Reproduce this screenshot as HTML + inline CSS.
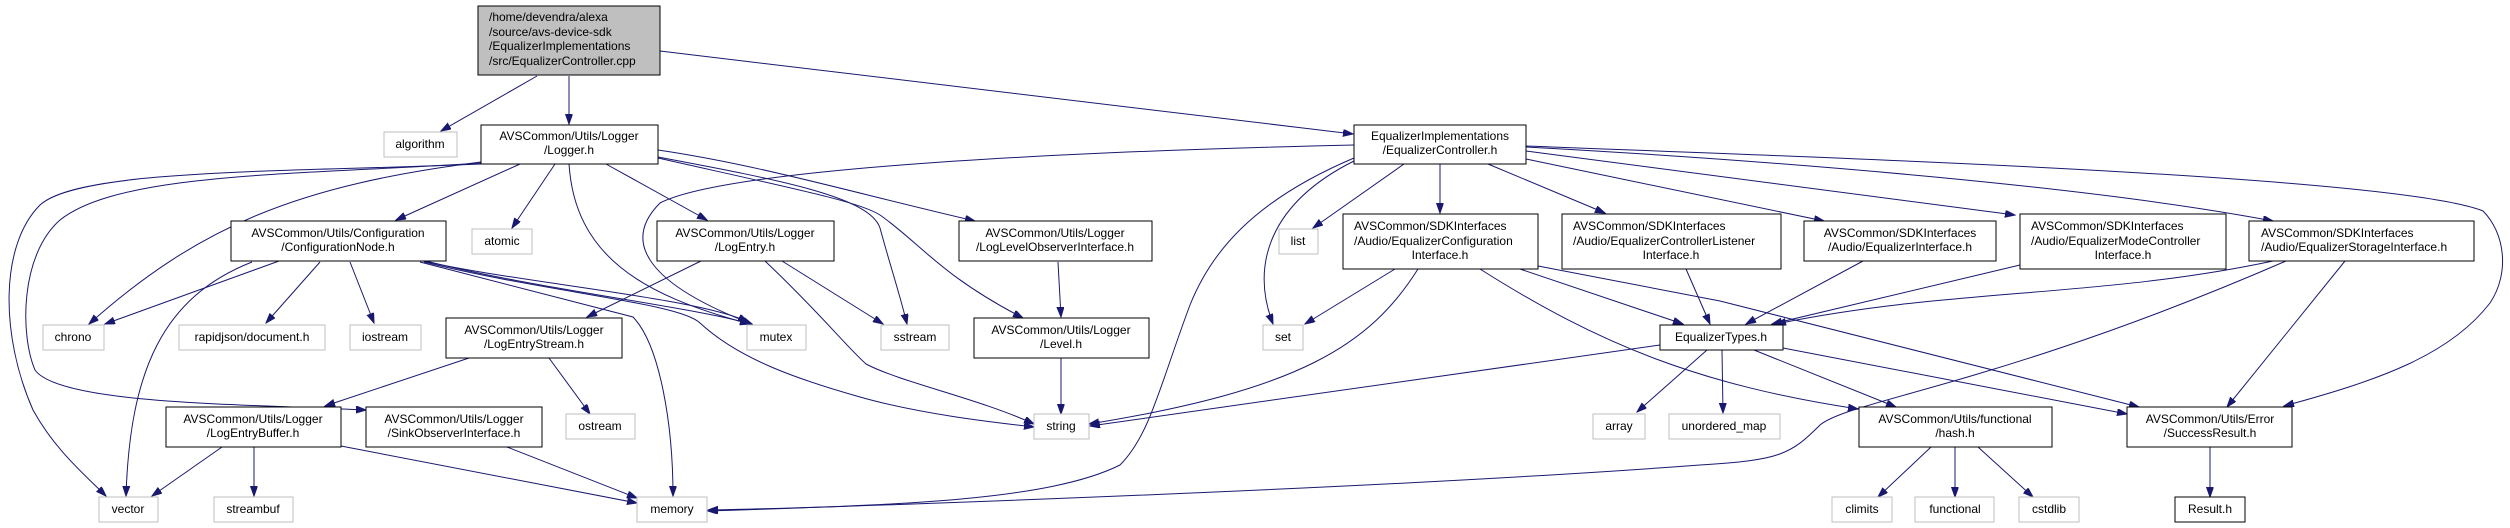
<!DOCTYPE html>
<html><head><meta charset="utf-8"><style>
html,body{margin:0;padding:0;background:#fff;}
svg{display:block;}
text{font-family:"Liberation Sans",Arial,sans-serif;font-size:12px;fill:#000;}
.b{fill:#fff;stroke:#000;stroke-width:1;}
.g{fill:#fff;stroke:#bfbfbf;stroke-width:1;}
.e{fill:none;stroke:#191970;stroke-width:1;marker-end:url(#a);}
</style></head><body>
<svg width="2510" height="528" viewBox="0 0 2510 528" xmlns="http://www.w3.org/2000/svg">
<defs><marker id="a" markerUnits="userSpaceOnUse" markerWidth="11" markerHeight="8" refX="10" refY="3.5" orient="auto"><path d="M0,0 L10,3.5 L0,7 z" fill="#191970" stroke="#191970"/></marker></defs>

<!-- edges -->
<path class="e" d="M537,76 L441,131"/>
<path class="e" d="M569,76 L569,124"/>
<path class="e" d="M660,51 L1353,134"/>
<path class="e" d="M520,164 L396,220"/>
<path class="e" d="M555,164 L512,228"/>
<path class="e" d="M606,164 L707,220"/>
<path class="e" d="M569,164 C575,255 640,295 750,324"/>
<path class="e" d="M481,162 C300,185 200,225 89,324"/>
<path class="e" d="M481,164 C300,172 80,168 40,205 C0,245 0,335 33,410 C55,450 85,475 106,496"/>
<path class="e" d="M481,163 C300,175 120,172 60,220 C20,255 20,335 35,370 C60,405 250,404 366,410"/>
<path class="e" d="M658,150 C760,165 850,192 975,221"/>
<path class="e" d="M658,157 C780,180 870,197 880,228 C890,265 900,295 907,324"/>
<path class="e" d="M658,158 C800,190 860,202 880,215 C920,243 940,275 1023,318"/>
<path class="e" d="M279,261 L105,324"/>
<path class="e" d="M252,262 C163,297 130,370 126,496"/>
<path class="e" d="M320,262 L266,323"/>
<path class="e" d="M350,262 L374,323"/>
<path class="e" d="M423,261 C520,283 700,298 748,322"/>
<path class="e" d="M426,261 C530,288 700,308 750,324"/>
<path class="e" d="M420,262 L633,317 C660,345 673,425 673,496"/>
<path class="e" d="M424,262 C550,293 680,303 700,323 C740,360 800,380 860,397 C920,414 990,422 1034,427"/>
<path class="e" d="M701,261 L587,317"/>
<path class="e" d="M765,261 C820,313 845,345 866,364 C900,382 980,399 1034,424"/>
<path class="e" d="M782,261 L883,324"/>
<path class="e" d="M469,358 L325,406"/>
<path class="e" d="M549,358 L590,414"/>
<path class="e" d="M222,447 L152,496"/>
<path class="e" d="M254,447 L254,496"/>
<path class="e" d="M341,446 L637,503"/>
<path class="e" d="M507,447 L637,498"/>
<path class="e" d="M1058,262 L1061,317"/>
<path class="e" d="M1061,358 L1061,414"/>
<path class="e" d="M1354,145 C1000,153 720,172 660,203 C620,243 650,285 752,324"/>
<path class="e" d="M1354,158 C1250,202 1210,255 1190,305 C1160,385 1150,435 1120,465 C1050,500 900,506 708,510"/>
<path class="e" d="M2286,261 C2000,385 1850,400 1820,425 C1790,455 1780,460 1700,465 C1500,480 1200,495 708,511"/>
<path class="e" d="M1404,164 L1313,228"/>
<path class="e" d="M1354,161 C1270,203 1250,265 1273,324"/>
<path class="e" d="M1440,164 L1440,213"/>
<path class="e" d="M1488,164 L1605,213"/>
<path class="e" d="M1526,159 L1824,221"/>
<path class="e" d="M1526,151 L2015,215"/>
<path class="e" d="M1526,147 C1800,162 2100,188 2273,221"/>
<path class="e" d="M1526,146 C1900,160 2400,178 2483,211 C2505,233 2510,273 2490,303 C2450,355 2380,380 2284,406"/>
<path class="e" d="M1395,269 L1305,324"/>
<path class="e" d="M1418,269 C1370,345 1300,390 1089,424"/>
<path class="e" d="M1520,269 L1683,324"/>
<path class="e" d="M1480,269 C1600,345 1700,385 1858,409"/>
<path class="e" d="M1538,266 L1720,301 L2139,407"/>
<path class="e" d="M1686,269 L1710,324"/>
<path class="e" d="M1863,261 L1746,324"/>
<path class="e" d="M2020,265 L1772,324"/>
<path class="e" d="M2273,261 C2100,298 1950,288 1776,324"/>
<path class="e" d="M2345,261 L2227,407"/>
<path class="e" d="M1660,345 L1090,426"/>
<path class="e" d="M1707,350 L1637,412"/>
<path class="e" d="M1722,350 L1723,413"/>
<path class="e" d="M1754,350 L1896,407"/>
<path class="e" d="M1783,348 L2127,414"/>
<path class="e" d="M1931,447 L1878,497"/>
<path class="e" d="M1955,447 L1955,497"/>
<path class="e" d="M1978,447 L2033,497"/>
<path class="e" d="M2210,447 L2210,497"/>

<!-- nodes -->
<rect x="478" y="6" width="182" height="69" fill="#bfbfbf" stroke="#000"/>
<text x="489" y="21">/home/devendra/alexa</text>
<text x="489" y="36">/source/avs-device-sdk</text>
<text x="489" y="50">/EqualizerImplementations</text>
<text x="489" y="65">/src/EqualizerController.cpp</text>

<rect class="b" x="1343" y="214" width="195" height="55"/><text x="1354" y="230">AVSCommon/SDKInterfaces</text><text x="1354" y="245">/Audio/EqualizerConfiguration</text><text x="1440" y="259" text-anchor="middle">Interface.h</text>
<rect class="b" x="1562" y="214" width="219" height="55"/><text x="1573" y="230">AVSCommon/SDKInterfaces</text><text x="1573" y="245">/Audio/EqualizerControllerListener</text><text x="1671" y="259" text-anchor="middle">Interface.h</text>
<rect class="b" x="2020" y="214" width="206" height="55"/><text x="2031" y="230">AVSCommon/SDKInterfaces</text><text x="2031" y="245">/Audio/EqualizerModeController</text><text x="2123" y="259" text-anchor="middle">Interface.h</text>
<rect class="b" x="2249" y="221" width="225" height="40"/><text x="2261" y="237">AVSCommon/SDKInterfaces</text><text x="2261" y="251">/Audio/EqualizerStorageInterface.h</text>

<g text-anchor="middle">
<rect class="g" x="384" y="132" width="73" height="25"/><text x="420" y="148">algorithm</text>
<rect class="b" x="481" y="125" width="177" height="39"/><text x="569" y="140">AVSCommon/Utils/Logger</text><text x="569" y="154">/Logger.h</text>
<rect class="b" x="231" y="221" width="215" height="40"/><text x="338" y="237">AVSCommon/Utils/Configuration</text><text x="338" y="251">/ConfigurationNode.h</text>
<rect class="g" x="472" y="229" width="60" height="25"/><text x="502" y="245">atomic</text>
<rect class="b" x="657" y="221" width="177" height="40"/><text x="745" y="237">AVSCommon/Utils/Logger</text><text x="745" y="251">/LogEntry.h</text>
<rect class="g" x="43" y="325" width="61" height="25"/><text x="73" y="341">chrono</text>
<rect class="g" x="179" y="325" width="146" height="25"/><text x="252" y="341">rapidjson/document.h</text>
<rect class="g" x="350" y="325" width="71" height="25"/><text x="385" y="341">iostream</text>
<rect class="b" x="446" y="318" width="176" height="40"/><text x="534" y="334">AVSCommon/Utils/Logger</text><text x="534" y="348">/LogEntryStream.h</text>
<rect class="g" x="747" y="325" width="59" height="25"/><text x="776" y="341">mutex</text>
<rect class="b" x="166" y="407" width="175" height="40"/><text x="253" y="423">AVSCommon/Utils/Logger</text><text x="253" y="437">/LogEntryBuffer.h</text>
<rect class="b" x="366" y="407" width="176" height="40"/><text x="454" y="423">AVSCommon/Utils/Logger</text><text x="454" y="437">/SinkObserverInterface.h</text>
<rect class="g" x="566" y="414" width="69" height="25"/><text x="600" y="430">ostream</text>
<rect class="g" x="99" y="497" width="59" height="25"/><text x="128" y="513">vector</text>
<rect class="g" x="214" y="497" width="79" height="25"/><text x="253" y="513">streambuf</text>
<rect class="g" x="637" y="497" width="70" height="25"/><text x="672" y="513">memory</text>
<rect class="g" x="881" y="325" width="68" height="25"/><text x="915" y="341">sstream</text>
<rect class="b" x="959" y="221" width="193" height="40"/><text x="1055" y="237">AVSCommon/Utils/Logger</text><text x="1055" y="251">/LogLevelObserverInterface.h</text>
<rect class="b" x="974" y="318" width="175" height="40"/><text x="1061" y="334">AVSCommon/Utils/Logger</text><text x="1061" y="348">/Level.h</text>
<rect class="g" x="1034" y="414" width="55" height="25"/><text x="1061" y="430">string</text>
<rect class="b" x="1354" y="125" width="172" height="39"/><text x="1440" y="140">EqualizerImplementations</text><text x="1440" y="154">/EqualizerController.h</text>
<rect class="g" x="1279" y="229" width="39" height="25"/><text x="1298" y="245">list</text>
<rect class="g" x="1263" y="325" width="40" height="25"/><text x="1283" y="341">set</text>
<rect class="b" x="1660" y="325" width="123" height="25"/><text x="1721" y="341">EqualizerTypes.h</text>
<rect class="g" x="1593" y="414" width="52" height="25"/><text x="1619" y="430">array</text>
<rect class="g" x="1669" y="414" width="111" height="25"/><text x="1724" y="430">unordered_map</text>
<rect class="b" x="1804" y="221" width="192" height="40"/><text x="1900" y="237">AVSCommon/SDKInterfaces</text><text x="1900" y="251">/Audio/EqualizerInterface.h</text>
<rect class="b" x="1859" y="407" width="193" height="40"/><text x="1955" y="423">AVSCommon/Utils/functional</text><text x="1955" y="437">/hash.h</text>
<rect class="b" x="2127" y="407" width="165" height="40"/><text x="2210" y="423">AVSCommon/Utils/Error</text><text x="2210" y="437">/SuccessResult.h</text>
<rect class="g" x="1832" y="497" width="60" height="25"/><text x="1862" y="513">climits</text>
<rect class="g" x="1915" y="497" width="79" height="25"/><text x="1955" y="513">functional</text>
<rect class="g" x="2019" y="497" width="60" height="25"/><text x="2049" y="513">cstdlib</text>
<rect class="b" x="2175" y="497" width="70" height="25"/><text x="2210" y="513">Result.h</text>
</g>
</svg>
</body></html>
